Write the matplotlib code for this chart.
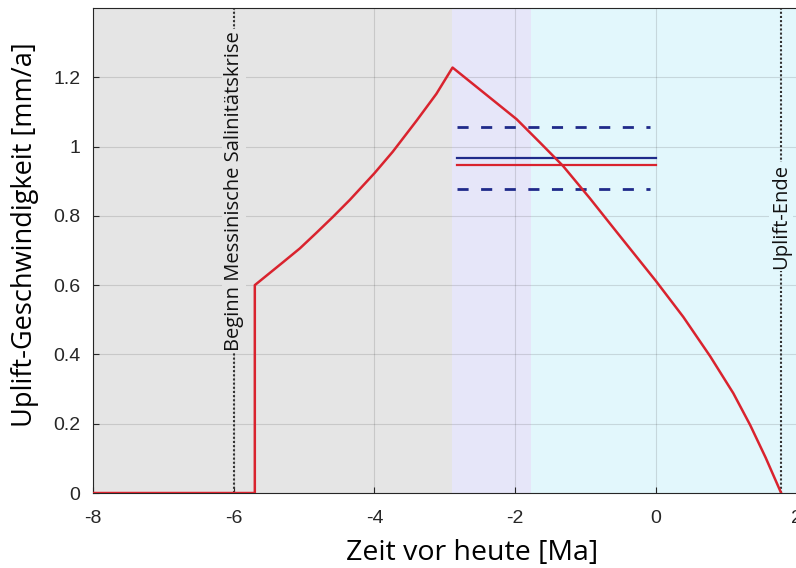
#!/usr/bin/env python3

import numpy as np
import matplotlib.pyplot as plt

# uplift rate model [mm/a] vs time before present [Ma]
t_rate = [-8.0, -5.7, -5.7, -5.3, -5.06, -4.83, -4.59, -4.35, -4.0, -3.74, -3.4, -3.12, -2.89,
          -2.45, -1.98, -1.65, -1.32, -0.94, -0.56, 0.0, 0.39, 0.77, 1.10, 1.34, 1.56, 1.78]
rate = [0.0, 0.0, 0.60, 0.666, 0.706, 0.750, 0.797, 0.846, 0.923, 0.985, 1.075, 1.152, 1.228,
        1.156, 1.079, 1.012, 0.944, 0.851, 0.754, 0.612, 0.508, 0.395, 0.288, 0.196, 0.102, 0.0]

# mean rates over the dated interval, with uncertainty band
t_mean = [-2.82, 0.0]
mean_blue = 0.968
mean_red = 0.946
band_hi = 1.056
band_lo = 0.878

# time intervals shaded in the background
spans = [(-8.0, -2.9, '#e5e5e5'), (-2.9, -1.78, '#e6e6f9'), (-1.78, 2.0, '#e2f7fc')]

events = [(-6.0, 'Beginn Messinische Salinitätskrise', 0.872, '#e5e5e5'),
          (1.78, 'Uplift-Ende', 0.797, '#e2f7fc')]

xticks = [-8, -6, -4, -2, 0, 2]
yticks = [0, 0.2, 0.4, 0.6, 0.8, 1.0, 1.2]
ytick_labels = ['0', '0.2', '0.4', '0.6', '0.8', '1', '1.2']


def main():
	fig = plt.figure(figsize=(7.96, 5.68), dpi=100)
	ax = fig.add_axes([0.1168, 0.132, 0.884, 0.854])

	for x0, x1, c in spans:
		ax.axvspan(x0, x1, color=c, lw=0, zorder=0)

	ax.grid(True, color='#262626', alpha=0.15, lw=0.8, zorder=1)
	ax.set_axisbelow(True)

	for x, label, ypos, bg in events:
		ax.axvline(x, color='#333333', ls=(0, (1, 1)), lw=1.5, zorder=2)
		ax.text(x, ypos, label, rotation=90, ha='center', va='center', fontsize=14.5,
				family='Open Sans', color='#111111', zorder=3,
				bbox=dict(facecolor=bg, edgecolor='none', pad=1.5))

	red = '#d9232e'
	navy = '#1f2a8a'
	ax.plot(t_rate, rate, color=red, lw=1.8, zorder=5)
	ax.plot(t_mean, [mean_blue, mean_blue], color=navy, lw=1.6, zorder=4)
	ax.plot(t_mean, [mean_red, mean_red], color=red, lw=1.6, zorder=4)
	ax.plot([t_mean[0], t_mean[1] - 0.08], [band_hi, band_hi], color=navy, lw=2, ls=(0, (4, 4.5)), zorder=4)
	ax.plot([t_mean[0], t_mean[1] - 0.08], [band_lo, band_lo], color=navy, lw=2, ls=(0, (4, 4.5)), zorder=4)

	ax.set_xlim(-8, 2)
	ax.set_ylim(0, 1.4)
	ax.set_xticks(xticks)
	ax.set_xticklabels([str(v) for v in xticks])
	ax.set_yticks(yticks)
	ax.set_yticklabels(ytick_labels)
	ax.tick_params(direction='in', length=4, width=0.8, colors='#262626', labelsize=14)
	ax.tick_params(axis='x', pad=12)
	ax.tick_params(axis='y', pad=9)
	for lab in ax.get_xticklabels() + ax.get_yticklabels():
		lab.set_family('Liberation Sans')

	for s in ax.spines.values():
		s.set_color('#262626')
		s.set_linewidth(0.8)

	ax.set_xlabel('Zeit vor heute [Ma]', fontsize=20.5, family='Open Sans')
	ax.set_ylabel('Uplift-Geschwindigkeit [mm/a]', fontsize=19.5, family='Open Sans')
	ax.xaxis.set_label_coords(0.539, -0.095)
	ax.yaxis.set_label_coords(-0.076, 0.532)

	fig.savefig('out.png', dpi=100)


if __name__ == '__main__':
	main()
